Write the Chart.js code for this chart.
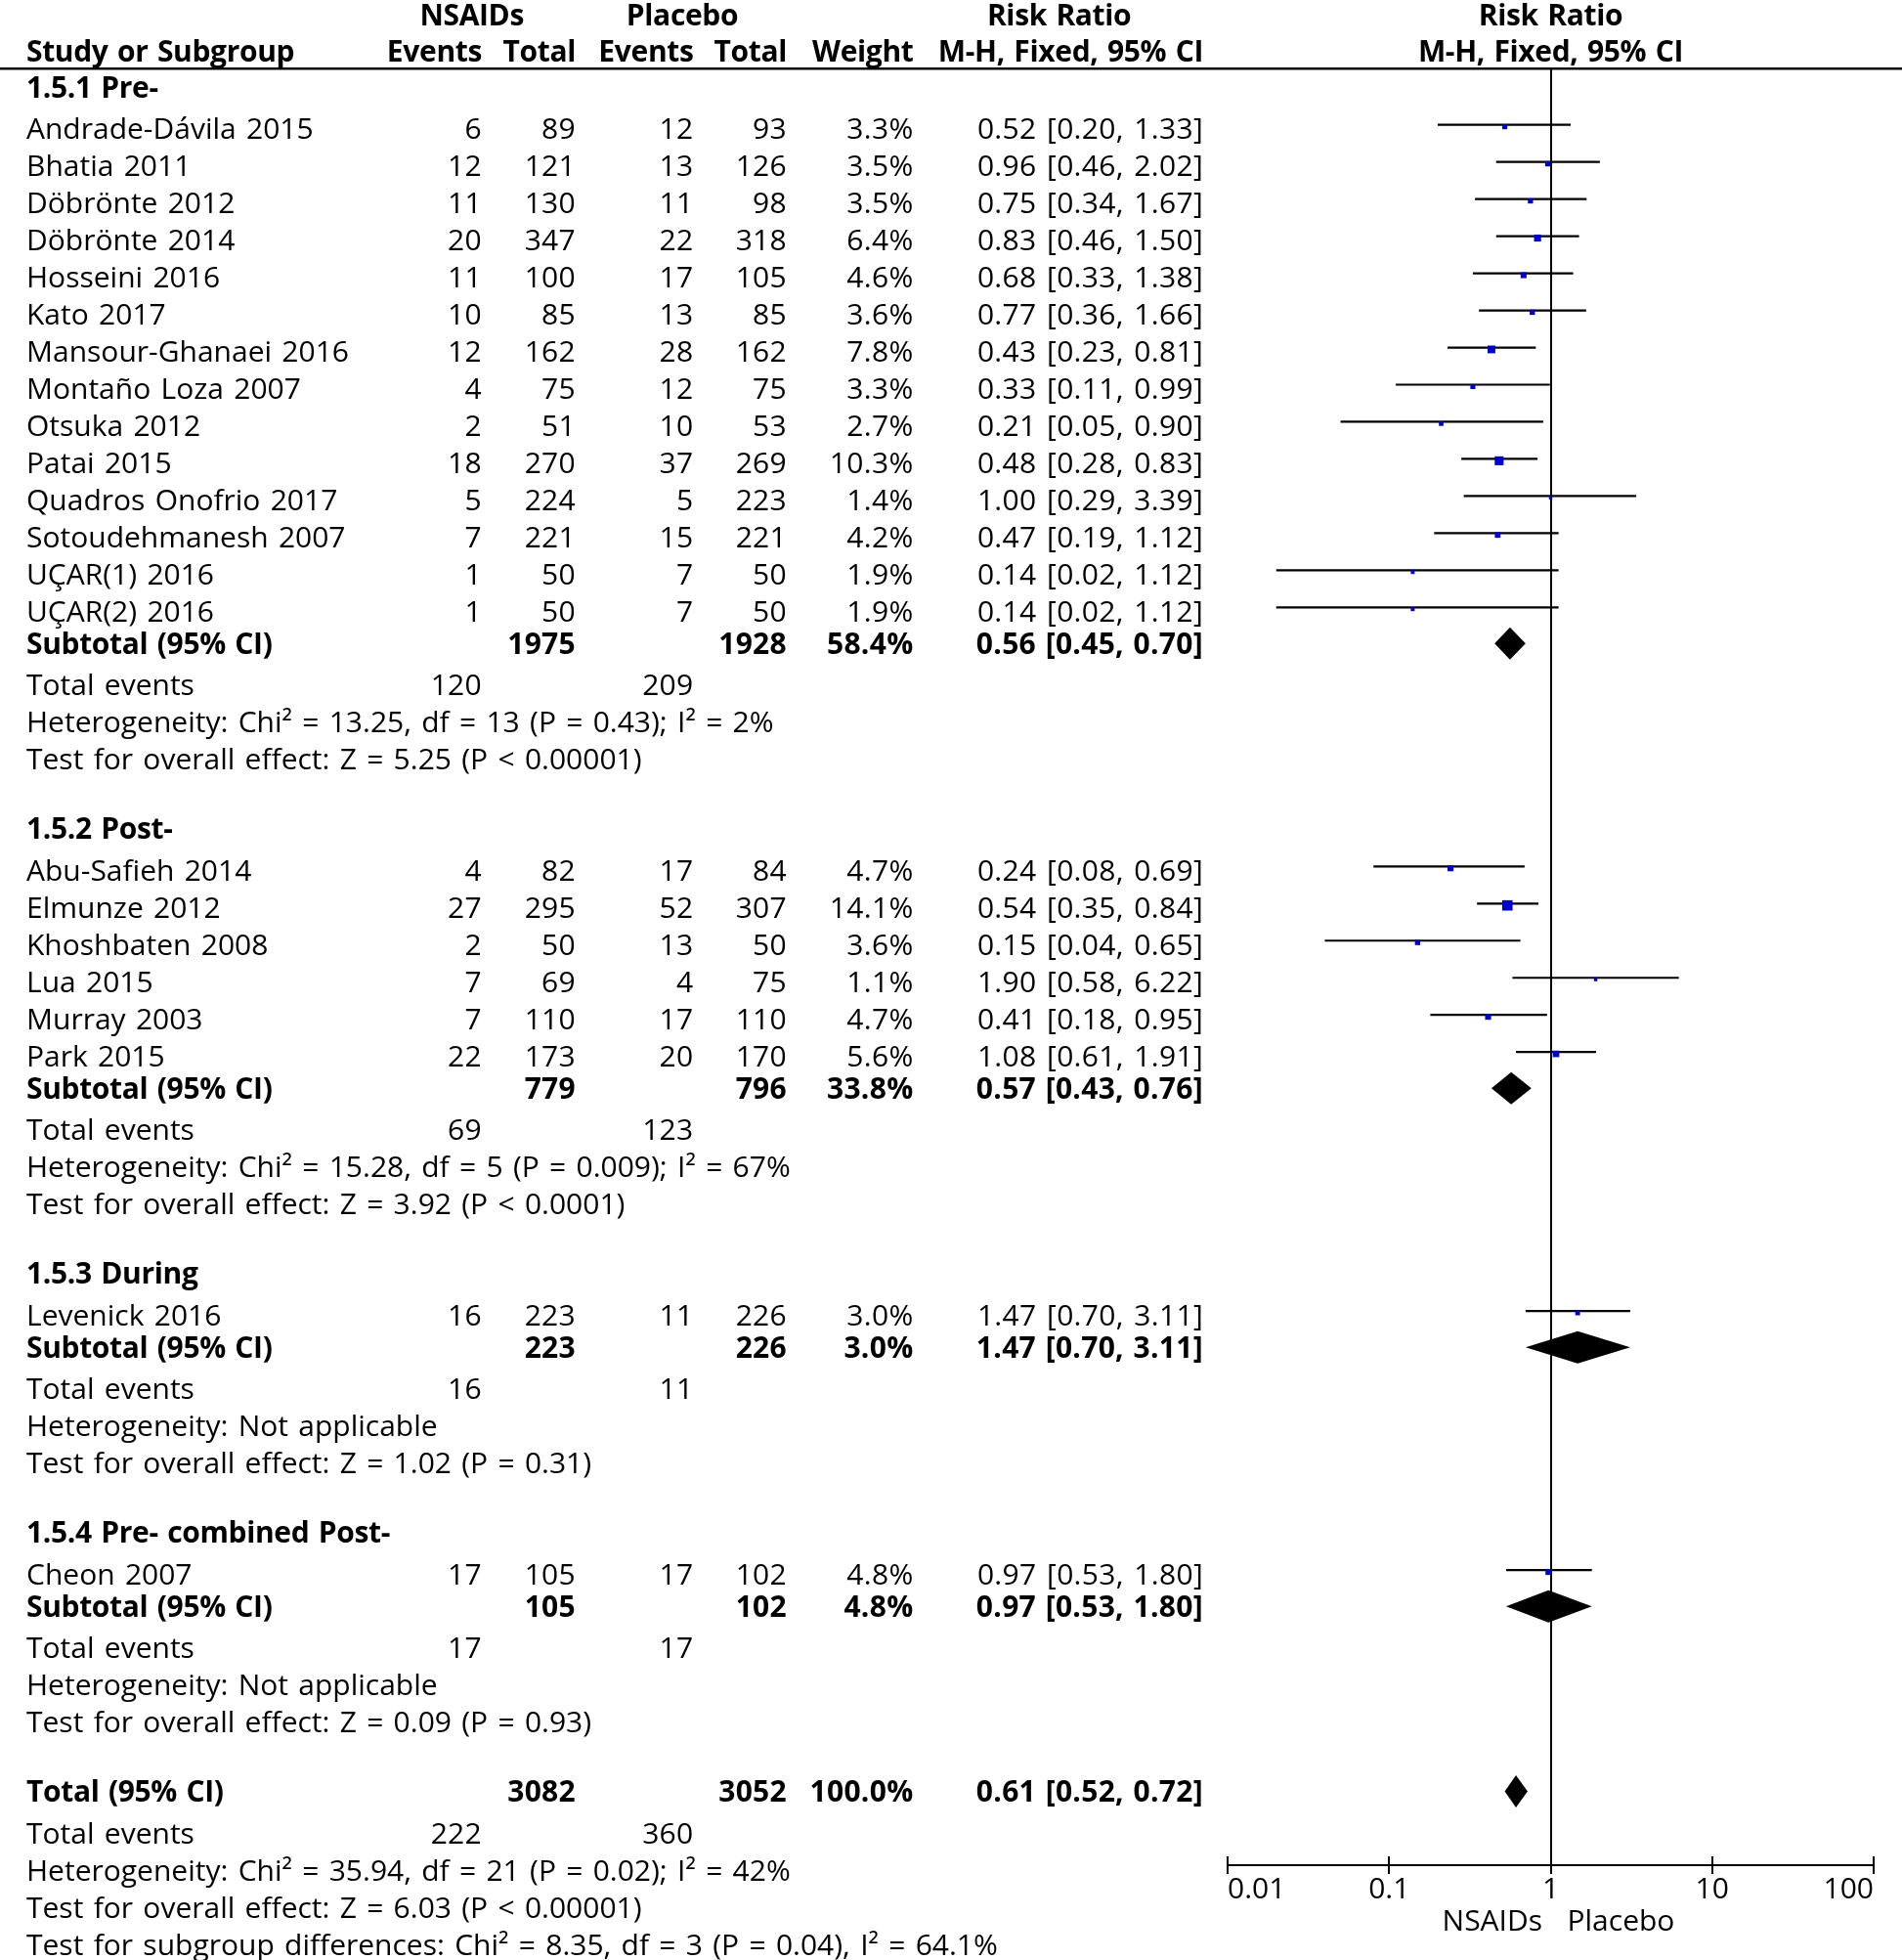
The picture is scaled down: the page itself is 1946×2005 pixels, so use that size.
<!DOCTYPE html>
<html><head><meta charset="utf-8">
<script src="https://cdn.jsdelivr.net/npm/chart.js@4/dist/chart.umd.min.js"></script>
<style>html,body{margin:0;padding:0;background:#fff;}canvas{display:block;}</style>
</head><body>
<canvas id="c" width="1946" height="2005"></canvas>
<script>
// ---------------- DATA ----------------
const studyNames = ['Andrade-Dávila 2015','Bhatia 2011','Döbrönte 2012','Döbrönte 2014','Hosseini 2016','Kato 2017','Mansour-Ghanaei 2016','Montaño Loza 2007','Otsuka 2012','Patai 2015','Quadros Onofrio 2017','Sotoudehmanesh 2007','UÇAR(1) 2016','UÇAR(2) 2016',
  'Abu-Safieh 2014','Elmunze 2012','Khoshbaten 2008','Lua 2015','Murray 2003','Park 2015',
  'Levenick 2016',
  'Cheon 2007'];
const studyGroup    = [0,0,0,0,0,0,0,0,0,0,0,0,0,0, 1,1,1,1,1,1, 2, 3];
const nsaidEvents   = [6,12,11,20,11,10,12,4,2,18,5,7,1,1, 4,27,2,7,7,22, 16, 17];
const nsaidTotals   = [89,121,130,347,100,85,162,75,51,270,224,221,50,50, 82,295,50,69,110,173, 223, 105];
const placeboEvents = [12,13,11,22,17,13,28,12,10,37,5,15,7,7, 17,52,13,4,17,20, 11, 17];
const placeboTotals = [93,126,98,318,105,85,162,75,53,269,223,221,50,50, 84,307,50,75,110,170, 226, 102];
const weights       = [3.3,3.5,3.5,6.4,4.6,3.6,7.8,3.3,2.7,10.3,1.4,4.2,1.9,1.9, 4.7,14.1,3.6,1.1,4.7,5.6, 3.0, 4.8];
const riskRatios    = [0.52,0.96,0.75,0.83,0.68,0.77,0.43,0.33,0.21,0.48,1.00,0.47,0.14,0.14, 0.24,0.54,0.15,1.90,0.41,1.08, 1.47, 0.97];
const ciLower       = [0.20,0.46,0.34,0.46,0.33,0.36,0.23,0.11,0.05,0.28,0.29,0.19,0.02,0.02, 0.08,0.35,0.04,0.58,0.18,0.61, 0.70, 0.53];
const ciUpper       = [1.33,2.02,1.67,1.50,1.38,1.66,0.81,0.99,0.90,0.83,3.39,1.12,1.12,1.12, 0.69,0.84,0.65,6.22,0.95,1.91, 3.11, 1.80];

const groupTitles           = ['1.5.1 Pre-','1.5.2 Post-','1.5.3 During','1.5.4 Pre- combined Post-'];
const subtotalNsaidTotals   = [1975,779,223,105];
const subtotalPlaceboTotals = [1928,796,226,102];
const subtotalWeights       = [58.4,33.8,3.0,4.8];
const subtotalRR            = [0.56,0.57,1.47,0.97];
const subtotalLower         = [0.45,0.43,0.70,0.53];
const subtotalUpper         = [0.70,0.76,3.11,1.80];
const subtotalNsaidEvents   = [120,69,16,17];
const subtotalPlaceboEvents = [209,123,11,17];
const heterogeneityTexts = ['Heterogeneity: Chi² = 13.25, df = 13 (P = 0.43); I² = 2%',
  'Heterogeneity: Chi² = 15.28, df = 5 (P = 0.009); I² = 67%',
  'Heterogeneity: Not applicable','Heterogeneity: Not applicable'];
const overallEffectTexts = ['Test for overall effect: Z = 5.25 (P < 0.00001)',
  'Test for overall effect: Z = 3.92 (P < 0.0001)',
  'Test for overall effect: Z = 1.02 (P = 0.31)',
  'Test for overall effect: Z = 0.09 (P = 0.93)'];

const totalNsaidTotal = 3082, totalPlaceboTotal = 3052, totalWeight = 100.0;
const totalRR = 0.61, totalLower = 0.52, totalUpper = 0.72;
const totalNsaidEvents = 222, totalPlaceboEvents = 360;
const totalHeterogeneity = 'Heterogeneity: Chi² = 35.94, df = 21 (P = 0.02); I² = 42%';
const totalOverallEffect = 'Test for overall effect: Z = 6.03 (P < 0.00001)';
const subgroupDifferences = 'Test for subgroup differences: Chi² = 8.35, df = 3 (P = 0.04), I² = 64.1%';

const axisTicks = [0.01, 0.1, 1, 10, 100];
const axisTickLabels = ['0.01','0.1','1','10','100'];
const favoursLeft = 'NSAIDs', favoursRight = 'Placebo';

// ---------------- LAYOUT (row positions in line units) ----------------
const rows = [];
let pos = 0.50;
groupTitles.forEach((title, g) => {
  if (g > 0) pos += 1.875;
  rows.push({kind:'group', pos, g});
  let first = true;
  studyGroup.forEach((sg, i) => {
    if (sg !== g) return;
    pos += first ? 1.12 : 1.0; first = false;
    rows.push({kind:'study', pos, i});
  });
  pos += 0.874; rows.push({kind:'subtotal', pos, g});
  pos += 1.11;  rows.push({kind:'events', pos, a:subtotalNsaidEvents[g], b:subtotalPlaceboEvents[g]});
  pos += 1.0;   rows.push({kind:'note', pos, text:heterogeneityTexts[g]});
  pos += 1.0;   rows.push({kind:'note', pos, text:overallEffectTexts[g]});
});
pos += 1.875; rows.push({kind:'total', pos});
pos += 1.13; rows.push({kind:'events', pos, a:totalNsaidEvents, b:totalPlaceboEvents});
pos += 1.0;  rows.push({kind:'note', pos, text:totalHeterogeneity});
pos += 1.0;  rows.push({kind:'note', pos, text:totalOverallEffect});
pos += 1.0;  rows.push({kind:'note', pos, text:subgroupDifferences});

const studyPos = [];
rows.forEach(r => { if (r.kind === 'study') studyPos[r.i] = r.pos; });
const subtotalPos = [];
rows.forEach(r => { if (r.kind === 'subtotal') subtotalPos[r.g] = r.pos; });
const totalPos = rows.find(r => r.kind === 'total').pos;

// ---------------- STYLE ----------------
const FONT = '"Open Sans", "Noto Sans", sans-serif';
const FS = 30;
const LINE_UNIT_PX = 37.97;
const col = {name:27, e1:493, n1:589, e2:709.5, n2:805, w:934.5, rr:1231};
const CAP = 0.357 * FS; // half cap height -> baseline offset

const fmt2 = v => v.toFixed(2);
const rrText = (r, l, u) => fmt2(r) + ' [' + fmt2(l) + ', ' + fmt2(u) + ']';

// ---------------- DATASETS ----------------
const ciDatasets = studyNames.map((n, i) => ({
  type: 'scatter',
  label: n + ' CI',
  data: [{x: ciLower[i], y: studyPos[i] - 0.1}, {x: ciUpper[i], y: studyPos[i] - 0.1}],
  showLine: true, borderColor: '#000', borderWidth: 2.2, pointRadius: 0, order: 2
}));
const squareDataset = {
  type: 'scatter',
  label: 'Risk ratio',
  data: riskRatios.map((r, i) => ({x: r, y: studyPos[i] - 0.05})),
  pointStyle: 'rect',
  pointRadius: weights.map(w => Math.max(3.4, 2.83 * Math.sqrt(w)) / Math.SQRT2),
  pointBorderWidth: 0,
  backgroundColor: 'rgb(0,0,204)', borderColor: 'rgb(0,0,204)',
  order: 0
};

const diamonds = subtotalRR.map((r, g) => ({est: r, lo: subtotalLower[g], hi: subtotalUpper[g], pos: subtotalPos[g]}));
diamonds.push({est: totalRR, lo: totalLower, hi: totalUpper, pos: totalPos});

// ---------------- PLUGIN: table text, reference lines, diamonds ----------------
const forestPlugin = {
  id: 'forest',
  beforeDatasetsDraw(chart) {
    const ctx = chart.ctx, xs = chart.scales.x, ys = chart.scales.y, area = chart.chartArea;
    ctx.save();
    // header rule
    ctx.fillStyle = '#000';
    ctx.fillRect(0, area.top - 1, chart.width, 2);
    ctx.fillStyle = '#888';
    ctx.fillRect(0, area.top + 1, chart.width, 1);
    // line of no effect
    const x1 = Math.round(xs.getPixelForValue(1));
    ctx.fillStyle = '#000';
    ctx.fillRect(x1 - 1, area.top, 2, area.bottom - area.top);
    // upper halves of axis ticks
    axisTicks.forEach(v => {
      const px = Math.round(xs.getPixelForValue(v));
      ctx.fillRect(px - 1, area.bottom - 9, 2, 9);
    });
    // diamonds
    diamonds.forEach(d => {
      const yc = ys.getPixelForValue(d.pos), h = 16.5;
      ctx.beginPath();
      ctx.moveTo(xs.getPixelForValue(d.lo), yc);
      ctx.lineTo(xs.getPixelForValue(d.est), yc - h);
      ctx.lineTo(xs.getPixelForValue(d.hi), yc);
      ctx.lineTo(xs.getPixelForValue(d.est), yc + h);
      ctx.closePath();
      ctx.fill();
    });
    ctx.restore();
  },
  afterDraw(chart) {
    const ctx = chart.ctx, xs = chart.scales.x, ys = chart.scales.y;
    ctx.save();
    ctx.fillStyle = '#000';
    ctx.textBaseline = 'alphabetic';
    const txt = (s, x, yc, align, bold) => {
      s = String(s);
      ctx.font = (bold ? 'bold ' : '') + FS + 'px ' + FONT;
      ctx.textAlign = align;
      const numeric = /^[0-9.,%\[\] ]+$/.test(s);
      if (numeric) { ctx.letterSpacing = '0.3px'; ctx.wordSpacing = bold ? '1.5px' : '2.5px'; }
      else if (bold) { ctx.letterSpacing = '-0.35px'; ctx.wordSpacing = '2px'; }
      else { ctx.letterSpacing = '0px'; ctx.wordSpacing = '2.5px'; }
      ctx.fillText(s, x, yc + CAP);
    };
    // headers
    const xOne = xs.getPixelForValue(1);
    const h1 = 15, h2 = 52;
    txt('NSAIDs', 482.7, h1, 'center', true);
    txt('Placebo', 698, h1, 'center', true);
    txt('Risk Ratio', 1083.6, h1, 'center', true);
    txt('Risk Ratio', xOne, h1, 'center', true);
    txt('Study or Subgroup', col.name, h2, 'left', true);
    txt('Events', col.e1, h2, 'right', true);
    txt('Total', col.n1, h2, 'right', true);
    txt('Events', col.e2, h2, 'right', true);
    txt('Total', col.n2, h2, 'right', true);
    txt('Weight', col.w, h2, 'right', true);
    txt('M-H, Fixed, 95% CI', col.rr, h2, 'right', true);
    txt('M-H, Fixed, 95% CI', xOne, h2, 'center', true);

    rows.forEach(r => {
      const y = ys.getPixelForValue(r.pos);
      if (r.kind === 'group') {
        txt(groupTitles[r.g], col.name, y, 'left', true);
      } else if (r.kind === 'study') {
        const i = r.i;
        txt(studyNames[i], col.name, y, 'left', false);
        txt(nsaidEvents[i], col.e1, y, 'right', false);
        txt(nsaidTotals[i], col.n1, y, 'right', false);
        txt(placeboEvents[i], col.e2, y, 'right', false);
        txt(placeboTotals[i], col.n2, y, 'right', false);
        txt(weights[i].toFixed(1) + '%', col.w, y, 'right', false);
        txt(rrText(riskRatios[i], ciLower[i], ciUpper[i]), col.rr, y, 'right', false);
      } else if (r.kind === 'subtotal') {
        const g = r.g;
        txt('Subtotal (95% CI)', col.name, y, 'left', true);
        txt(subtotalNsaidTotals[g], col.n1, y, 'right', true);
        txt(subtotalPlaceboTotals[g], col.n2, y, 'right', true);
        txt(subtotalWeights[g].toFixed(1) + '%', col.w, y, 'right', true);
        txt(rrText(subtotalRR[g], subtotalLower[g], subtotalUpper[g]), col.rr, y, 'right', true);
      } else if (r.kind === 'total') {
        txt('Total (95% CI)', col.name, y, 'left', true);
        txt(totalNsaidTotal, col.n1, y, 'right', true);
        txt(totalPlaceboTotal, col.n2, y, 'right', true);
        txt(totalWeight.toFixed(1) + '%', col.w, y, 'right', true);
        txt(rrText(totalRR, totalLower, totalUpper), col.rr, y, 'right', true);
      } else if (r.kind === 'events') {
        txt('Total events', col.name, y, 'left', false);
        txt(r.a, col.e1, y, 'right', false);
        txt(r.b, col.e2, y, 'right', false);
      } else if (r.kind === 'note') {
        txt(r.text, col.name, y, 'left', false);
      }
    });
    // favours labels under the axis
    const yf = 1964;
    txt(favoursLeft, xOne - 8.5, yf, 'right', false);
    txt(favoursRight, xOne + 17, yf, 'left', false);
    ctx.restore();
  }
};

const chartAreaTop = 70, chartAreaBottom = 1908;
new Chart(document.getElementById('c'), {
  type: 'scatter',
  data: { datasets: [squareDataset, ...ciDatasets] },
  options: {
    responsive: false,
    devicePixelRatio: 1,
    animation: false,
    events: [],
    layout: { padding: { left: 1256, right: 29, top: chartAreaTop, bottom: 0 } },
    plugins: { legend: { display: false }, tooltip: { enabled: false } },
    scales: {
      x: {
        type: 'logarithmic', min: 0.01, max: 100, position: 'bottom',
        afterBuildTicks: s => { s.ticks = axisTicks.map(v => ({value: v})); },
        afterFit: s => { s.height = 2005 - chartAreaBottom; },
        grid: { display: true, drawOnChartArea: false, drawTicks: true, tickLength: 9, color: '#000', lineWidth: 2 },
        border: { display: true, color: '#000', width: 2 },
        ticks: {
          autoSkip: false, maxRotation: 0, minRotation: 0, align: 'inner', padding: -2,
          color: '#000', font: { family: FONT, size: 30 },
          callback: (v, i) => axisTickLabels[i]
        }
      },
      y: {
        type: 'linear', display: false, reverse: true,
        min: 0, max: (chartAreaBottom - chartAreaTop) / LINE_UNIT_PX
      }
    }
  },
  plugins: [forestPlugin]
});
</script>
</body></html>
